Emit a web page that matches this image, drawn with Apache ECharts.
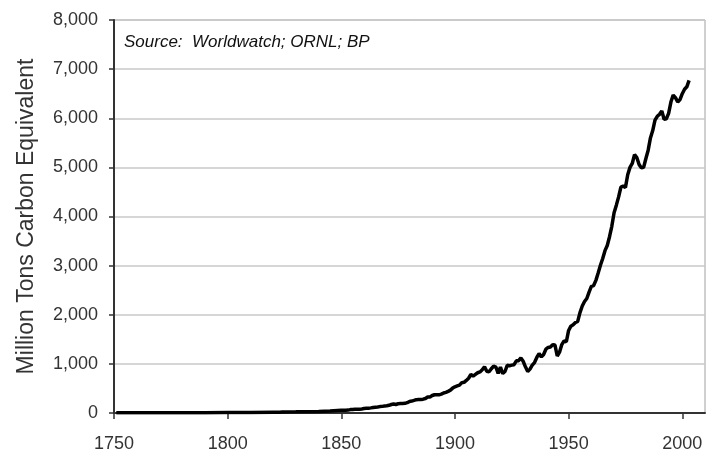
<!DOCTYPE html>
<html>
<head>
<meta charset="utf-8">
<script src="https://cdn.jsdelivr.net/npm/echarts@6/dist/echarts.min.js"></script>
<style>
  html, body { margin: 0; padding: 0; background: #fff; }
  #chart { width: 716px; height: 453px; }
</style>
</head>
<body>
<div id="chart"></div>
<script>
// sparse years before annual records
const earlyYears = [1751, 1760, 1770, 1780, 1790, 1800, 1810, 1820, 1823, 1824, 1830, 1840, 1845];
const earlyValues = [3, 3, 3, 4, 5, 8, 10, 14, 15, 20, 24, 33, 41];

// annual values, 1850 onwards (million tons carbon)
const annualStart = 1850;
const annualValues = [
  54, 54, 57, 59, 69, 71, 76, 77, 78, 83,
  91, 95, 97, 104, 112, 119, 122, 130, 135, 142,
  147, 156, 173, 184, 174, 188, 191, 194, 196, 210,
  236, 243, 256, 272, 275, 277, 281, 295, 327, 327,
  356, 372, 374, 370, 383, 406, 419, 440, 465, 507,
  534, 552, 566, 617, 624, 663, 707, 784, 750, 785,
  819, 836, 879, 943, 850, 838, 901, 955, 936, 806,
  932, 803, 845, 970, 963, 975, 983, 1062, 1065, 1120,
  1053, 940, 847, 893, 973, 1027, 1130, 1209, 1142, 1192,
  1299, 1334, 1342, 1391, 1383, 1160, 1238, 1392, 1469, 1450,
  1680, 1768, 1796, 1841, 1865, 2043, 2178, 2270, 2330, 2462,
  2577, 2594, 2700, 2848, 3008, 3145, 3305, 3411, 3588, 3800,
  4076, 4231, 4399, 4600, 4620, 4590, 4850, 5000, 5080, 5260,
  5200, 5060, 4990, 5000, 5180, 5350, 5600, 5750, 5960, 6040,
  6080, 6150, 5980, 5990, 6100, 6330, 6470, 6420, 6330, 6380,
  6500, 6590, 6640, 6770
];

const xTicks = [1750, 1800, 1850, 1900, 1950, 2000];
const yTicks = [0, 1000, 2000, 3000, 4000, 5000, 6000, 7000, 8000];

const points = earlyYears.map((y, i) => [y, earlyValues[i]]);
annualValues.forEach((v, i) => points.push([annualStart + i, v]));

const font = "Arial, 'Liberation Sans', sans-serif";
const chart = echarts.init(document.getElementById("chart"));

chart.setOption({
  animation: false,
  grid: { left: 114, right: 11, top: 20, bottom: 38, show: true, borderColor: "#a0a0a0", borderWidth: 1 },
  xAxis: {
    type: "value",
    min: 1750,
    max: 2010,
    interval: 50,
    axisLine: { lineStyle: { color: "#333", width: 2 } },
    axisTick: { show: true, length: 6, customValues: xTicks, lineStyle: { color: "#333", width: 1.5 } },
    axisLabel: {
      customValues: xTicks,
      fontSize: 18,
      color: "#333",
      margin: 22,
      fontFamily: font,
      formatter: (v) => String(v),
    },
    splitLine: { show: false },
  },
  yAxis: {
    type: "value",
    min: 0,
    max: 8000,
    interval: 1000,
    name: "Million Tons Carbon Equivalent",
    nameLocation: "middle",
    nameGap: 76,
    nameTextStyle: { fontSize: 23, color: "#333", fontFamily: font },
    axisLine: { show: true, lineStyle: { color: "#333", width: 2 } },
    axisTick: { show: true, length: 5, customValues: yTicks, lineStyle: { color: "#333", width: 1.5 } },
    axisLabel: {
      fontSize: 18,
      color: "#333",
      margin: 16,
      fontFamily: font,
      formatter: (v) => v.toLocaleString("en-US"),
    },
    splitLine: { lineStyle: { color: "#c8c8c8", width: 1.5 } },
  },
  graphic: [
    {
      type: "text",
      left: 124,
      top: 34,
      style: {
        text: "Source:  Worldwatch; ORNL; BP",
        font: "italic 17px " + font,
        fill: "#111",
      },
    },
  ],
  series: [
    {
      type: "line",
      data: points,
      showSymbol: false,
      lineStyle: { color: "#000", width: 3.5 },
      z: 5,
    },
  ],
});
</script>
</body>
</html>
